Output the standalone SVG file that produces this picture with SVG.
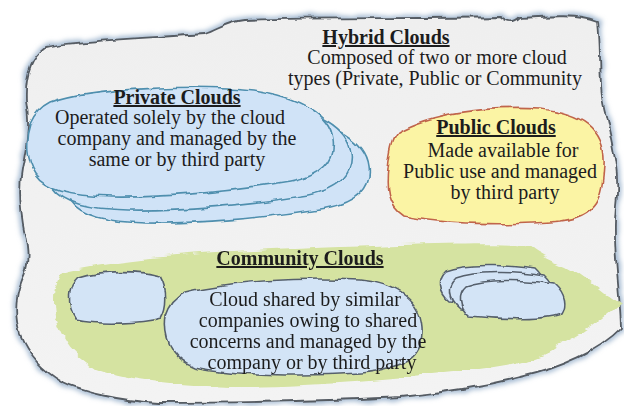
<svg xmlns="http://www.w3.org/2000/svg" width="624" height="406" viewBox="0 0 624 406">
  <defs>
    <!-- wobbly hand-torn edges -->
    <filter id="rough" x="-5%" y="-5%" width="110%" height="110%">
      <feTurbulence type="fractalNoise" baseFrequency="0.05" numOctaves="2" seed="4" result="n"/>
      <feDisplacementMap in="SourceGraphic" in2="n" scale="7" xChannelSelector="R" yChannelSelector="G"/>
    </filter>
    <filter id="roughGlow" x="-5%" y="-5%" width="110%" height="110%">
      <feTurbulence type="fractalNoise" baseFrequency="0.05" numOctaves="2" seed="4" result="n"/>
      <feDisplacementMap in="SourceGraphic" in2="n" scale="7" xChannelSelector="R" yChannelSelector="G"/>
      <feGaussianBlur stdDeviation="2.5"/>
    </filter>
    <filter id="brush" x="-5%" y="-10%" width="110%" height="120%">
      <feTurbulence type="fractalNoise" baseFrequency="0.015 0.09" numOctaves="3" seed="9" result="n"/>
      <feDisplacementMap in="SourceGraphic" in2="n" scale="12" xChannelSelector="R" yChannelSelector="G"/>
    </filter>
    <linearGradient id="hyb" x1="0" y1="0" x2="0" y2="1">
      <stop offset="0" stop-color="#efefef"/>
      <stop offset="1" stop-color="#f3f3f3"/>
    </linearGradient>
    <path id="hybPath" d="M45,47 C80,40 150,38 205,34 C218,30 226,22 245,20 C320,17 420,19 500,17 C508,24 514,24 520,18 C550,16 578,14 598,22 C602,60 598,90 606,115 C614,150 620,175 616,205 C612,245 620,290 621,328 C600,350 560,368 520,377 C480,387 440,393 400,397 C330,401 220,403 160,403 C120,401 82,392 62,382 C42,370 28,355 20,335 C14,315 16,295 22,280 C30,265 28,250 25,235 C20,210 18,190 22,170 C28,140 30,120 26,100 C25,76 31,57 45,47 Z"/>
    <path id="priv" d="M50,103 C90,88 200,84 253,90 C300,97 330,115 333,140 C336,160 322,176 290,182 C230,192 160,198 110,197 C70,196 45,190 35,175 C25,160 25,140 30,125 C35,113 42,107 50,103 Z"/>
    <path id="mini" d="M466,286 C485,279 525,279 555,284 C566,294 567,306 562,314 C545,320 505,320 470,316 C458,306 458,293 466,286 Z"/>
  </defs>

  <rect width="624" height="406" fill="#ffffff"/>

  <!-- Hybrid cloud (outer container) -->
  <g id="hybrid">
    <g filter="url(#roughGlow)">
      <use href="#hybPath" fill="none" stroke="#9fb6cf" stroke-width="6"/>
    </g>
    <g filter="url(#rough)">
      <use href="#hybPath" fill="url(#hyb)" stroke="#555b63" stroke-width="1.8"/>
    </g>
    <g font-size="20" fill="#1c1c1c" text-anchor="middle">
      <text font-family="Liberation Serif" font-weight="bold" text-decoration="underline" x="386" y="44">Hybrid Clouds</text>
      <text font-family="Liberation Serif" x="437" y="64">Composed of two or more cloud</text>
      <text font-family="Liberation Serif" x="435" y="85">types (Private, Public or Community</text>
    </g>
  </g>

  <!-- Private clouds: stack of three -->
  <g id="private">
    <g filter="url(#rough)" fill="#d0e3f7" stroke="#4f8fae" stroke-width="1.6">
      <use href="#priv" transform="translate(36,26)"/>
      <use href="#priv" transform="translate(18,13)"/>
      <use href="#priv"/>
    </g>
    <g font-size="20" fill="#1c1c1c" text-anchor="middle">
      <text font-family="Liberation Serif" font-weight="bold" text-decoration="underline" x="177" y="104">Private Clouds</text>
      <text font-family="Liberation Serif" x="170" y="124">Operated solely by the cloud</text>
      <text font-family="Liberation Serif" x="177" y="145">company and managed by the</text>
      <text font-family="Liberation Serif" x="177" y="166">same or by third party</text>
    </g>
  </g>

  <!-- Public cloud -->
  <g id="public">
    <g filter="url(#rough)">
      <path d="M398,132 C430,114 480,106 540,109 C585,113 606,132 604,165 C602,198 598,216 560,221 C510,226 440,224 404,216 C386,204 386,188 388,168 C390,150 392,139 398,132 Z" fill="#fbf4a4" stroke="#c0654c" stroke-width="1.6"/>
    </g>
    <g font-size="20" fill="#1c1c1c" text-anchor="middle">
      <text font-family="Liberation Serif" font-weight="bold" text-decoration="underline" x="496" y="134">Public Clouds</text>
      <text font-family="Liberation Serif" x="503" y="157">Made available for</text>
      <text font-family="Liberation Serif" x="500" y="178">Public use and managed</text>
      <text font-family="Liberation Serif" x="505" y="199">by third party</text>
    </g>
  </g>

  <!-- Community clouds -->
  <g id="community">
    <g filter="url(#brush)">
      <path d="M62,272 C120,256 250,250 400,245 C470,243 510,242 530,246 C540,254 548,258 567,266 C585,275 600,290 620,304 C600,322 580,335 560,345 C540,360 510,366 480,370 C400,380 300,387 230,387 C170,385 120,378 95,368 C75,355 62,340 56,320 C52,300 54,285 62,272 Z" fill="#d5e3a1"/>
    </g>
    <g filter="url(#rough)" fill="#d3e4f6" stroke="#56606c" stroke-width="1.6">
      <path d="M78,277 C100,270 140,270 160,276 C168,290 167,308 161,318 C140,324 100,325 76,320 C66,306 68,286 78,277 Z"/>
      <use href="#mini" transform="translate(-20,-15)"/>
      <use href="#mini" transform="translate(-10,-8)"/>
      <use href="#mini"/>
      <path d="M186,292 C230,281 300,277 360,280 C400,284 420,302 422,328 C424,355 406,369 360,373 C300,377 230,375 195,367 C170,357 163,337 166,315 C170,302 177,296 186,292 Z"/>
    </g>
    <g font-size="20" fill="#1c1c1c" text-anchor="middle">
      <text font-family="Liberation Serif" font-weight="bold" text-decoration="underline" x="300" y="265">Community Clouds</text>
      <text font-family="Liberation Serif" x="305" y="306">Cloud shared by similar</text>
      <text font-family="Liberation Serif" x="308" y="327">companies owing to shared</text>
      <text font-family="Liberation Serif" x="308" y="348">concerns and managed by the</text>
      <text font-family="Liberation Serif" x="312" y="369">company or by third party</text>
    </g>
  </g>
</svg>
